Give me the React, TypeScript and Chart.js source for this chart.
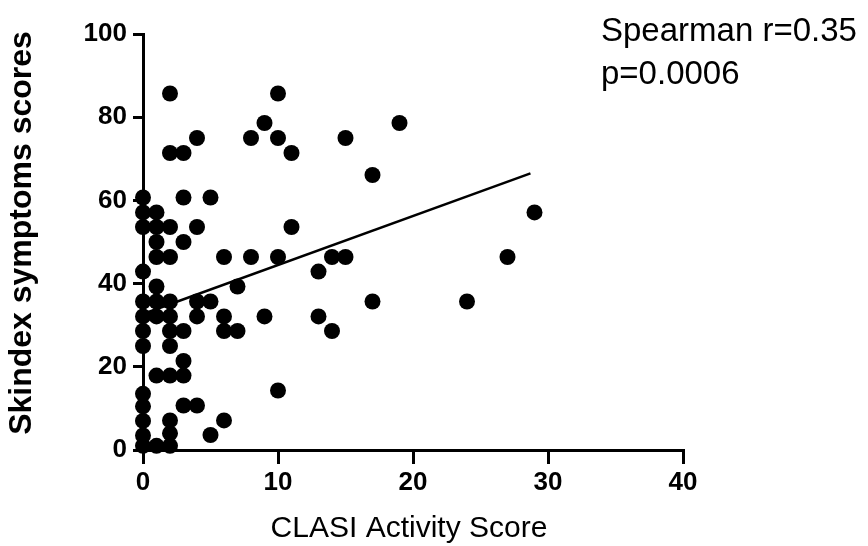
import React, { useEffect, useRef } from "react";
import { Chart, registerables } from "chart.js";

Chart.register(...registerables);

// CLASI Activity Score (x) and Skindex symptoms scores (y), one entry per patient
const clasiScores: number[] = [
  0, 0, 0, 0, 0, 0, 0, 0, 0, 0, 0, 0, 0,
  1, 1, 1, 1, 1, 1, 1, 1, 1,
  2, 2, 2, 2, 2, 2, 2, 2, 2, 2, 2, 2,
  3, 3, 3, 3, 3, 3, 3,
  4, 4, 4, 4, 4,
  5, 5, 5,
  6, 6, 6, 6,
  7, 7,
  8, 8,
  9, 9,
  10, 10, 10, 10,
  11, 11,
  13, 13,
  14, 14,
  15, 15,
  17, 17,
  19,
  24,
  27,
  29,
];
const skindexScores: number[] = [
  60.7, 57.1, 53.6, 42.9, 35.7, 32.1, 28.6, 25, 13.5, 10.5, 7, 3.5, 1,
  57.1, 53.6, 50, 46.4, 39.3, 35.7, 32.1, 17.9, 1,
  85.7, 71.4, 53.6, 46.4, 35.7, 32.1, 28.6, 25, 17.9, 7.1, 4, 1,
  71.4, 60.7, 50, 28.6, 21.4, 17.9, 10.7,
  75, 53.6, 35.7, 32.1, 10.7,
  60.7, 35.7, 3.6,
  46.4, 32.1, 28.6, 7.1,
  39.3, 28.6,
  75, 46.4,
  78.6, 32.1,
  85.7, 75, 46.4, 14.3,
  71.4, 53.6,
  42.9, 32.1,
  46.4, 28.6,
  75, 46.4,
  66.1, 35.7,
  78.6,
  35.7,
  46.4,
  57.1,
];

// Regression line end points
const fitX: number[] = [0, 28.7];
const fitY: number[] = [32.7, 66.5];

const xTicks: number[] = [0, 10, 20, 30, 40];
const yTicks: number[] = [0, 20, 40, 60, 80, 100];

const xTitle = "CLASI Activity Score";
const yTitle = "Skindex symptoms scores";
const statLines: string[] = ["Spearman r=0.35", "p=0.0006"];

const FONT = '"Liberation Sans", Arial, sans-serif';

export default function App() {
  const ref = useRef<HTMLCanvasElement | null>(null);

  useEffect(() => {
    document.body.style.margin = "0";
    const canvas = ref.current;
    if (!canvas) return;

    const textPlugin = {
      id: "textPlugin",
      afterDraw(chart: any) {
        const ctx = chart.ctx as CanvasRenderingContext2D;
        const area = chart.chartArea;
        ctx.save();
        ctx.fillStyle = "#000";
        // y title
        ctx.font = `bold 32px ${FONT}`;
        ctx.textAlign = "center";
        ctx.textBaseline = "middle";
        ctx.translate(22, 233);
        ctx.rotate(-Math.PI / 2);
        ctx.fillText(yTitle, 0, 0);
        ctx.restore();

        ctx.save();
        ctx.fillStyle = "#000";
        ctx.font = `30px ${FONT}`;
        ctx.textAlign = "center";
        ctx.textBaseline = "alphabetic";
        ctx.fillText(xTitle, (area.left + area.right) / 2 - 4, 537);

        ctx.font = `33px ${FONT}`;
        ctx.textAlign = "left";
        ctx.fillText(statLines[0], 601, 41);
        ctx.fillText(statLines[1], 601, 84);
        ctx.restore();
      },
    };

    const chart = new Chart(canvas, {
      type: "scatter",
      data: {
        datasets: [
          {
            type: "line",
            data: fitX.map((x, i) => ({ x, y: fitY[i] })),
            borderColor: "#000",
            borderWidth: 2.5,
            pointRadius: 0,
            fill: false,
            clip: false as any,
            order: 1,
          } as any,
          {
            type: "scatter",
            data: clasiScores.map((x, i) => ({ x, y: skindexScores[i] })),
            backgroundColor: "#000",
            borderColor: "#000",
            borderWidth: 0,
            pointRadius: 8,
            pointHoverRadius: 8,
            clip: false as any,
            order: 0,
          } as any,
        ],
      },
      options: {
        animation: false,
        responsive: false,
        maintainAspectRatio: false,
        devicePixelRatio: 1,
        layout: { padding: { left: 0, top: 34, right: 185, bottom: 0 } },
        plugins: {
          legend: { display: false },
          tooltip: { enabled: false },
          title: { display: false },
        },
        scales: {
          x: {
            type: "linear",
            min: 0,
            max: 40,
            afterBuildTicks: (s: any) => {
              s.ticks = xTicks.map((v) => ({ value: v }));
            },
            afterFit: (s: any) => {
              s.height = 96;
            },
            grid: {
              drawOnChartArea: false,
              drawTicks: true,
              tickLength: 14,
              color: "#000",
              lineWidth: 3,
            },
            border: { display: true, color: "#000", width: 3 },
            ticks: {
              color: "#000",
              font: { family: FONT, size: 26, weight: "bold" },
              padding: 3,
              maxRotation: 0,
            },
          },
          y: {
            type: "linear",
            min: 0,
            max: 100,
            afterBuildTicks: (s: any) => {
              s.ticks = yTicks.map((v) => ({ value: v }));
            },
            afterFit: (s: any) => {
              s.width = 143;
            },
            grid: {
              drawOnChartArea: false,
              drawTicks: true,
              tickLength: 10,
              color: "#000",
              lineWidth: 3,
            },
            border: { display: true, color: "#000", width: 3 },
            ticks: {
              color: "#000",
              font: { family: FONT, size: 26, weight: "bold" },
              padding: 6,
            },
          },
        },
      } as any,
      plugins: [textPlugin],
    });

    return () => chart.destroy();
  }, []);

  return (
    <div style={{ width: 868, height: 546, background: "#fff" }}>
      <canvas ref={ref} width={868} height={546} style={{ display: "block" }} />
    </div>
  );
}
